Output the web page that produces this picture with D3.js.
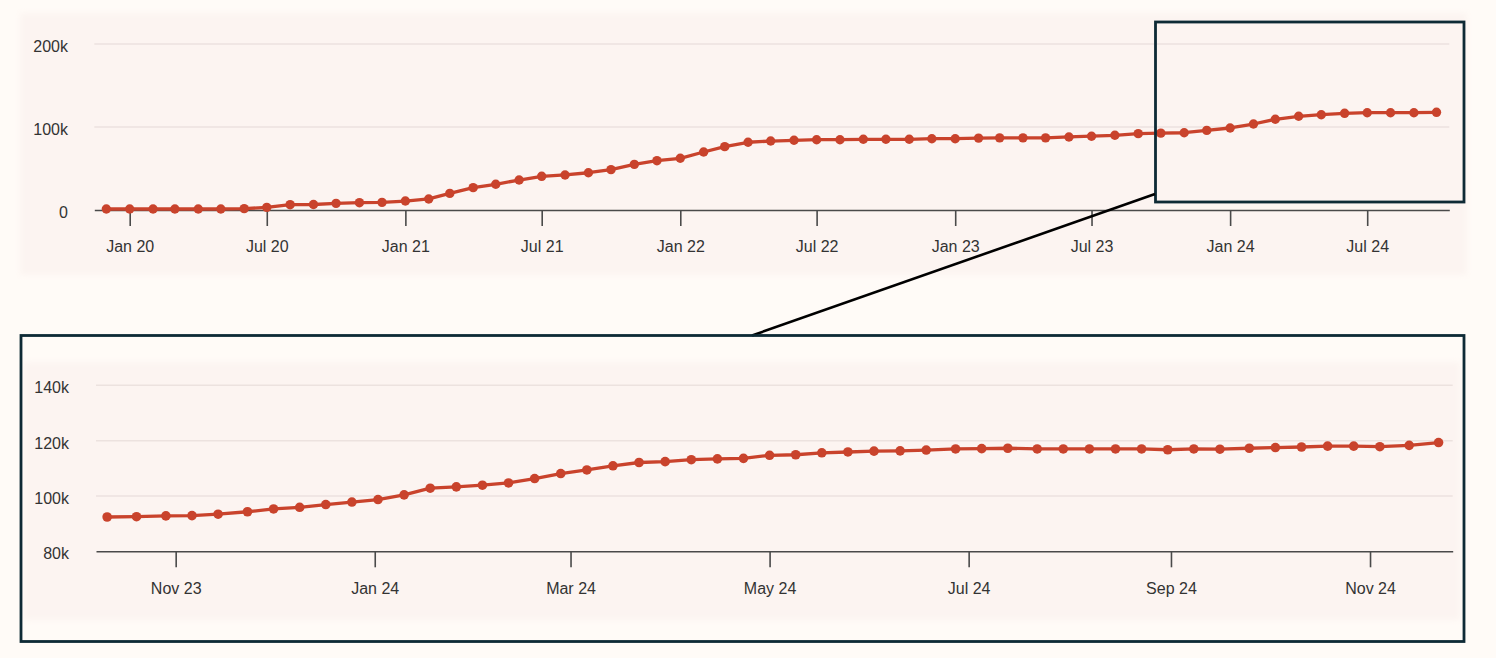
<!DOCTYPE html>
<html>
<head>
<meta charset="utf-8">
<script src="https://cdn.jsdelivr.net/npm/d3@7"></script>
<style>
  html, body { margin: 0; padding: 0; background: #fffbf7; }
  svg { display: block; font-family: "Liberation Sans", Arial, sans-serif; }
</style>
</head>
<body>
<svg id="chart" width="1496" height="658"></svg>
<script>
// ---------- DATA ----------
const topMonths = [
  "2019-12",
  "2020-01","2020-02","2020-03","2020-04","2020-05","2020-06","2020-07","2020-08","2020-09","2020-10","2020-11","2020-12",
  "2021-01","2021-02","2021-03","2021-04","2021-05","2021-06","2021-07","2021-08","2021-09","2021-10","2021-11","2021-12",
  "2022-01","2022-02","2022-03","2022-04","2022-05","2022-06","2022-07","2022-08","2022-09","2022-10","2022-11","2022-12",
  "2023-01","2023-02","2023-03","2023-04","2023-05","2023-06","2023-07","2023-08","2023-09","2023-10","2023-11","2023-12",
  "2024-01","2024-02","2024-03","2024-04","2024-05","2024-06","2024-07","2024-08","2024-09","2024-10"
];
const topValues = [ // thousands
  1.2,
  1.2, 1.2, 1.2, 1.2, 1.2, 1.6, 3.2, 6.4, 6.6, 8.0, 8.8, 9.2,
  10.8, 13.3, 20.0, 26.9, 31.0, 36.1, 40.6, 42.2, 44.9, 48.6, 55.0, 59.4,
  62.3, 69.9, 76.3, 81.6, 83.1, 84.0, 84.7, 84.7, 85.2, 85.2, 85.2, 85.9,
  85.9, 86.6, 86.9, 86.9, 86.9, 88.0, 88.9, 90.0, 92.0, 92.6, 93.1, 95.9,
  98.8, 103.6, 109.3, 112.9, 114.8, 116.5, 117.2, 117.2, 117.2, 117.7
];
const topXTicks = ["2020-01","2020-07","2021-01","2021-07","2022-01","2022-07","2023-01","2023-07","2024-01","2024-07"];
const topYTicks = [0, 100, 200];
const topYLabels = ["0", "100k", "200k"];

const zoomDates = [
  "2023-10-11","2023-10-20","2023-10-29","2023-11-06","2023-11-14","2023-11-23","2023-12-01","2023-12-09","2023-12-17","2023-12-25",
  "2024-01-02","2024-01-10","2024-01-18","2024-01-26","2024-02-03","2024-02-11","2024-02-19","2024-02-27","2024-03-06","2024-03-14",
  "2024-03-22","2024-03-30","2024-04-07","2024-04-15","2024-04-23","2024-05-01","2024-05-09","2024-05-17","2024-05-25","2024-06-02",
  "2024-06-10","2024-06-18","2024-06-27","2024-07-05","2024-07-13","2024-07-22","2024-07-30","2024-08-07","2024-08-15","2024-08-23",
  "2024-08-31","2024-09-08","2024-09-16","2024-09-25","2024-10-03","2024-10-11","2024-10-19","2024-10-27","2024-11-04","2024-11-13",
  "2024-11-22"
];
const zoomValues = [ // thousands
  92.4, 92.5, 92.8, 92.9, 93.4, 94.3, 95.3, 95.9, 96.9, 97.8,
  98.7, 100.4, 102.8, 103.3, 103.9, 104.7, 106.3, 108.1, 109.4, 110.9,
  112.1, 112.4, 113.1, 113.4, 113.6, 114.7, 114.9, 115.6, 115.9, 116.2,
  116.3, 116.6, 117.0, 117.1, 117.25, 117.0, 117.0, 117.0, 117.0, 117.0,
  116.7, 117.0, 116.9, 117.25, 117.5, 117.7, 118.0, 118.0, 117.8, 118.3,
  119.3
];
const zoomXTicks = ["2023-11-01","2024-01-01","2024-03-01","2024-05-01","2024-07-01","2024-09-01","2024-11-01"];
const zoomYTicks = [80, 100, 120, 140];
const zoomYLabels = ["80k", "100k", "120k", "140k"];

// ---------- STYLE ----------
const LINE = "#c9432c";
const PANEL = "#fcf4f1";
const GRID = "#ece2df";
const AXIS = "#4a4a4a";
const TEXT = "#333333";
const FRAME = "#0e2a35";

const svg = d3.select("#chart");
const pMonth = d3.utcParse("%Y-%m");
const pDay = d3.utcParse("%Y-%m-%d");
const fmt = d3.utcFormat("%b %y");

const defs = svg.append("defs");
defs.append("filter").attr("id", "soft").attr("x", "-5%").attr("y", "-5%").attr("width", "110%").attr("height", "110%")
  .append("feGaussianBlur").attr("stdDeviation", 3);

function drawChart(g, cfg) {
  const x = cfg.x, y = cfg.y;
  const [x0, x1] = x.range();
  g.append("g").selectAll("line").data(cfg.yTicks.slice(1)).join("line")
    .attr("x1", x0).attr("x2", x1)
    .attr("y1", d => y(d)).attr("y2", d => y(d))
    .attr("stroke", GRID).attr("stroke-width", 1.5);
  g.append("g").selectAll("text").data(cfg.yTicks).join("text")
    .attr("x", cfg.labelX).attr("y", d => y(d) + 8)
    .attr("text-anchor", "end").attr("font-size", 16).attr("fill", TEXT)
    .text((d, i) => cfg.yLabels[i]);
  const ax = g.append("g").attr("transform", `translate(0,${y.range()[0]})`)
    .call(d3.axisBottom(x).tickValues(cfg.xTicks).tickFormat(fmt).tickSize(16).tickSizeOuter(0).tickPadding(15));
  ax.select(".domain").attr("stroke", AXIS).attr("stroke-width", 1.6);
  ax.selectAll(".tick line").attr("stroke", AXIS).attr("stroke-width", 1.6);
  ax.selectAll(".tick text").attr("font-size", 16).attr("fill", TEXT).attr("font-family", "Liberation Sans, Arial, sans-serif");
  const pts = cfg.dates.map((d, i) => ({ d, v: cfg.values[i] }));
  g.append("path").datum(pts)
    .attr("fill", "none").attr("stroke", LINE).attr("stroke-width", 3.3).attr("stroke-linejoin", "round")
    .attr("d", d3.line().x(p => x(p.d)).y(p => y(p.v)));
  g.append("g").selectAll("circle").data(pts).join("circle")
    .attr("cx", p => x(p.d)).attr("cy", p => y(p.v)).attr("r", cfg.r).attr("fill", LINE);
}

// ---------- TOP CHART ----------
svg.append("rect").attr("x", 20).attr("y", 13).attr("width", 1447).attr("height", 262)
  .attr("fill", PANEL).attr("filter", "url(#soft)");

const xTop = d3.scaleUtc().domain([pDay("2019-11-15"), pDay("2024-10-18")]).range([94.3, 1449.3]);
const yTop = d3.scaleLinear().domain([0, 200]).range([210, 44]);
drawChart(svg.append("g"), {
  x: xTop, y: yTop,
  dates: topMonths.map(pMonth), values: topValues,
  xTicks: topXTicks.map(pMonth), yTicks: topYTicks, yLabels: topYLabels,
  labelX: 68, r: 4.7
});

// highlight box on top chart
svg.append("rect").attr("x", 1155.5).attr("y", 22).attr("width", 308.5).attr("height", 180)
  .attr("fill", "none").attr("stroke", FRAME).attr("stroke-width", 2.8);

// ---------- BOTTOM (ZOOM) CHART ----------
svg.append("rect").attr("x", 21).attr("y", 335.5).attr("width", 1443).attr("height", 306)
  .attr("fill", "#fffbf7");
svg.append("rect").attr("x", 24).attr("y", 362).attr("width", 1436).attr("height", 258)
  .attr("fill", PANEL).attr("filter", "url(#soft)");

const xZoom = d3.scaleUtc().domain([new Date(Date.UTC(2023, 9, 7, 14)), new Date(Date.UTC(2024, 10, 26, 8))]).range([96, 1452.7]);
const yZoom = d3.scaleLinear().domain([80, 140]).range([551.3, 385.3]);
drawChart(svg.append("g"), {
  x: xZoom, y: yZoom,
  dates: zoomDates.map(pDay), values: zoomValues,
  xTicks: zoomXTicks.map(pDay), yTicks: zoomYTicks, yLabels: zoomYLabels,
  labelX: 69, r: 4.8
});

// connector line
svg.append("line").attr("x1", 1155).attr("y1", 194).attr("x2", 752).attr("y2", 335.5)
  .attr("stroke", "#000").attr("stroke-width", 2.6);

// bottom frame
svg.append("rect").attr("x", 21).attr("y", 335.5).attr("width", 1443).attr("height", 306)
  .attr("fill", "none").attr("stroke", FRAME).attr("stroke-width", 2.8);
</script>
</body>
</html>
